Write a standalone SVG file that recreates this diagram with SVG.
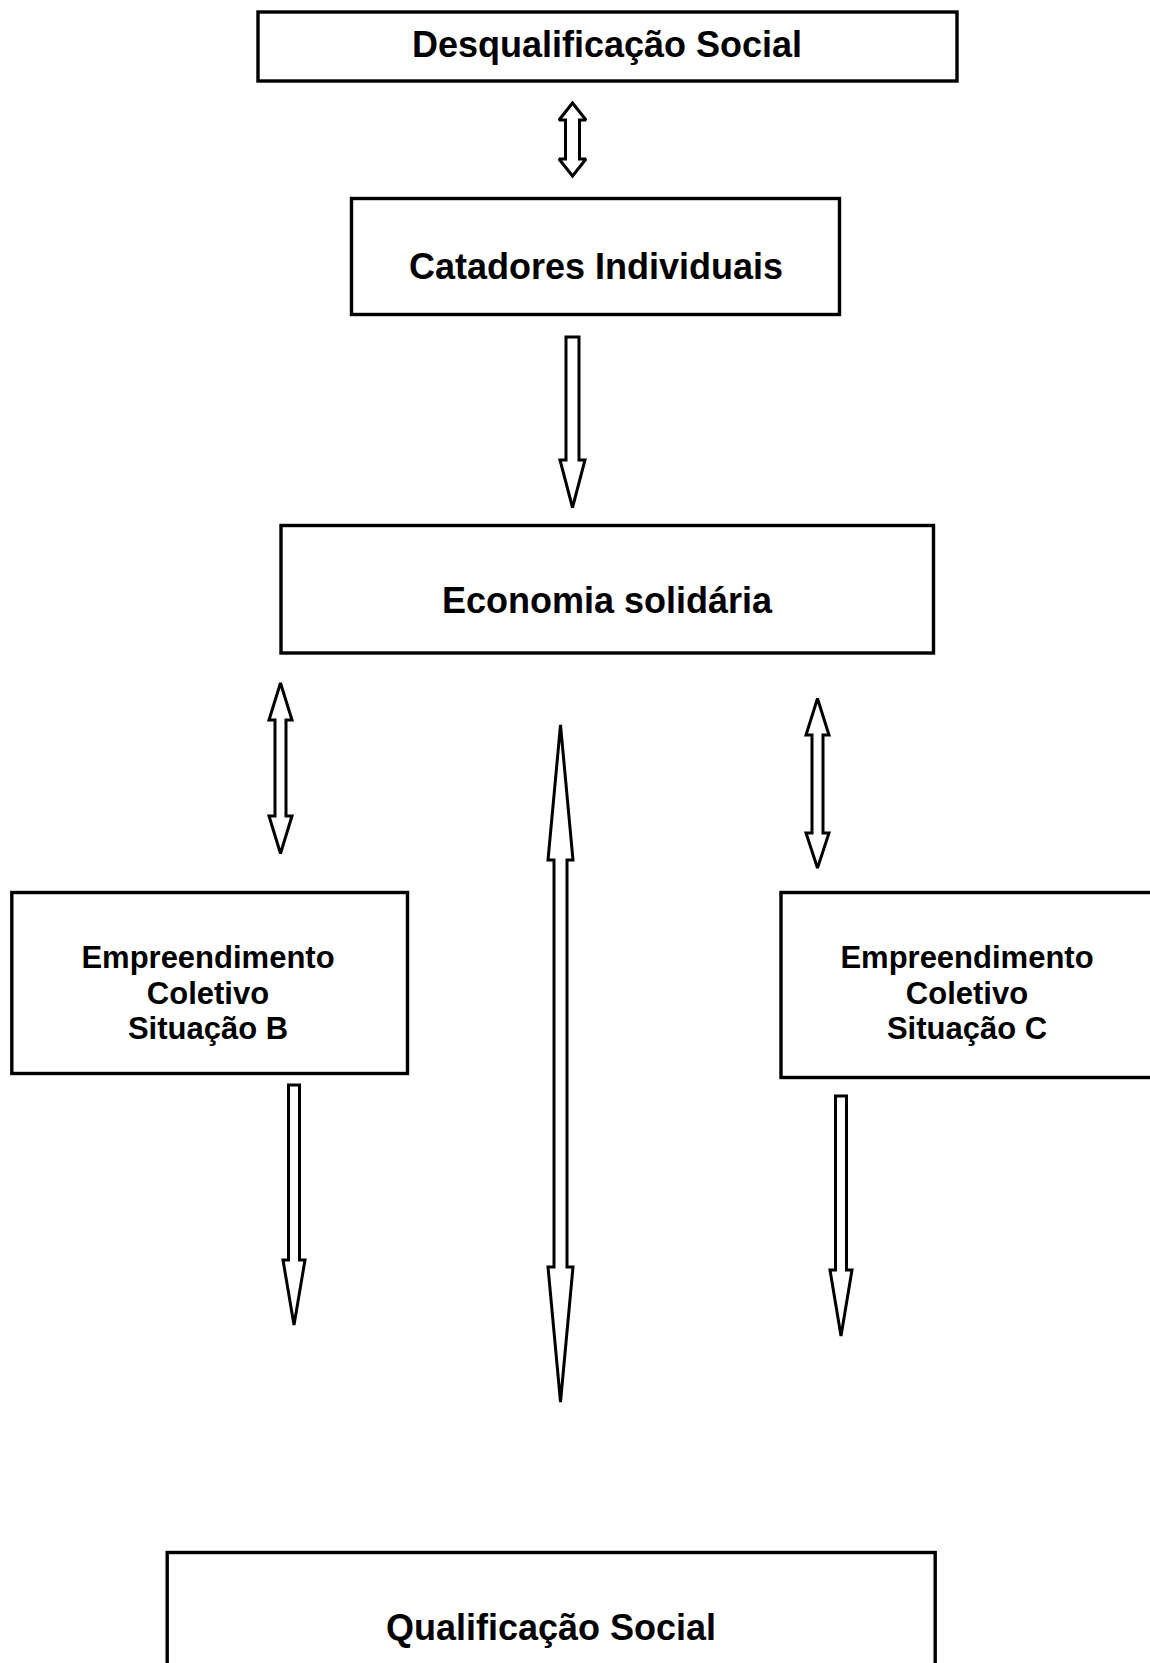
<svg xmlns="http://www.w3.org/2000/svg" width="1150" height="1663" viewBox="0 0 1150 1663">
<style>
.box{fill:#fff;stroke:#000;stroke-width:3.4}
.arr{fill:#fff;stroke:#000;stroke-width:3;stroke-linejoin:miter;stroke-miterlimit:2}
.t{font-family:"Liberation Sans",Arial,sans-serif;font-weight:bold;fill:#000;text-anchor:middle}
.big{font-size:36px}
.small{font-size:31px}
</style>
<rect width="1150" height="1663" fill="#fff"/>
<g id="connectors">
<polygon class="arr" points="572.5,103 586,120 579.5,120 579.5,159 586,159 572.5,176 559,159 565.5,159 565.5,120 559,120"/>
<polygon class="arr" points="566,337 579,337 579,460 585,460 572.5,507.5 560,460 566,460"/>
<polygon class="arr" points="280.5,683 292,720 286,720 286,816 292,816 280.5,853.5 269,816 275,816 275,720 269,720"/>
<polygon class="arr" points="817.5,698.5 829,735 823,735 823,833 829,833 817.5,868 806,833 812,833 812,735 806,735"/>
<polygon class="arr" points="560.5,725 573,860 567,860 567,1267 573,1267 560.5,1402 548,1267 554,1267 554,860 548,860"/>
<polygon class="arr" points="288.5,1085 299.5,1085 299.5,1260 305,1260 294,1325 283,1260 288.5,1260"/>
<polygon class="arr" points="835.5,1096 846.5,1096 846.5,1270 852,1270 841,1336 830,1270 835.5,1270"/>
</g>
<g id="desqualificacao">
<rect class="box" x="258" y="12" width="699" height="69"/>
<text class="t big" x="607" y="57">Desqualificação Social</text>
</g>
<g id="catadores">
<rect class="box" x="351.5" y="198.5" width="488" height="116"/>
<text class="t big" x="596" y="279">Catadores Individuais</text>
</g>
<g id="economia">
<rect class="box" x="281" y="525.5" width="652.5" height="127.5"/>
<text class="t big" x="607" y="613">Economia solidária</text>
</g>
<g id="situacaoB">
<rect class="box" x="11.8" y="892.5" width="395.7" height="181"/>
<text class="t small" x="208" y="968">Empreendimento</text>
<text class="t small" x="208" y="1004">Coletivo</text>
<text class="t small" x="208" y="1039">Situação B</text>
</g>
<g id="situacaoC">
<rect class="box" x="781" y="892.5" width="400" height="185"/>
<text class="t small" x="967" y="968">Empreendimento</text>
<text class="t small" x="967" y="1004">Coletivo</text>
<text class="t small" x="967" y="1039">Situação C</text>
</g>
<g id="qualificacao">
<rect class="box" x="167.2" y="1552.5" width="768" height="200"/>
<text class="t big" x="551" y="1640">Qualificação Social</text>
</g>
</svg>
